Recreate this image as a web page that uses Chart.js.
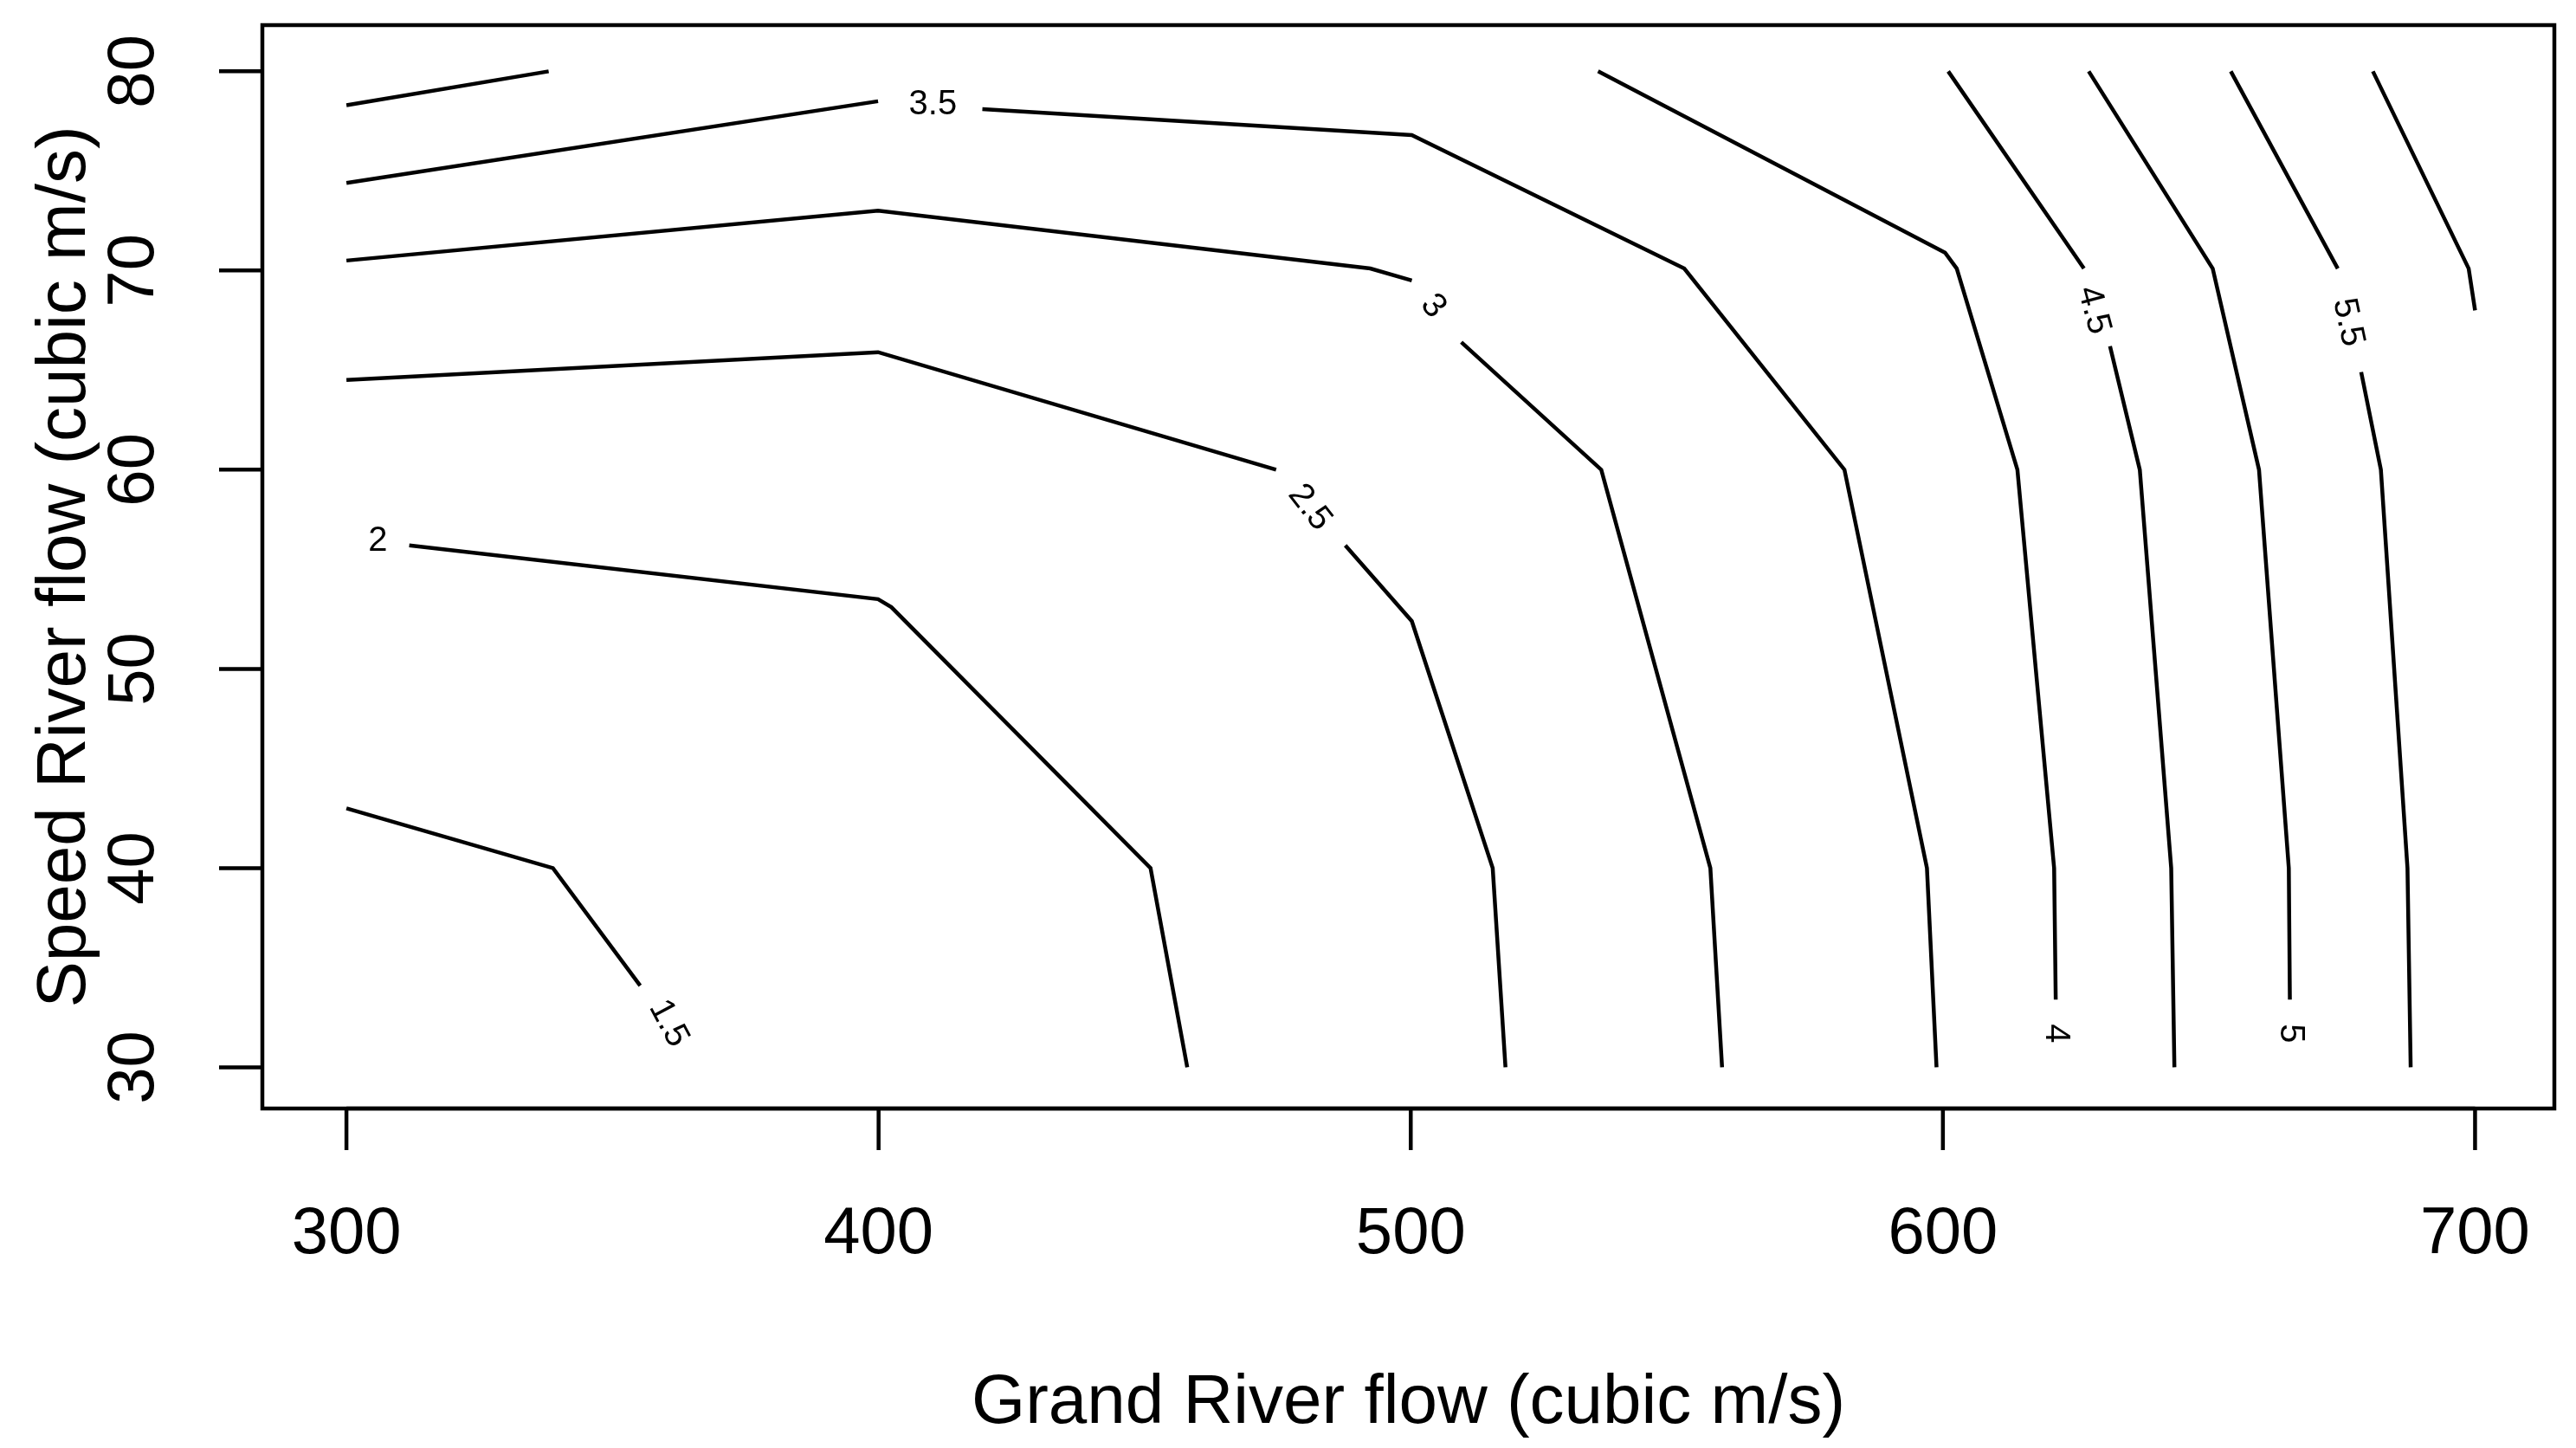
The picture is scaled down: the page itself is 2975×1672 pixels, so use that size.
<!DOCTYPE html>
<html>
<head>
<meta charset="utf-8">
<script src="https://cdn.jsdelivr.net/npm/chart.js@4.4.0/dist/chart.umd.min.js"></script>
<style>
  html, body { margin: 0; padding: 0; background: #fff; }
  #wrap { width: 2975px; height: 1672px; }
</style>
</head>
<body>
<div id="wrap"><canvas id="grafico"></canvas></div>
<script>
// Líneas de contorno (null = hueco para la etiqueta)
const niveles = ['1.5', '2', '2.5', '3', '3.5', '4', '4 (izq)', '4.5', '5', '5.5', '6'];
const contornoX = [
  [300, 338.8, 355.2],
  [311.8, 399.9, 402.4, 451.1, 458],
  [300, 399.9, 474.7, null, 487.7, 500.2, 515.4, 517.8],
  [300, 399.9, 492.4, 500.2, null, 509.5, 535.8, 556.3, 558.5],
  [300, 399.9, null, 419.5, 500.2, 551.4, 581.5, 597, 598.8],
  [535.2, 600.4, 602.6, 614, 620.9, 621.2],
  [300, 338],
  [601, 626.5, null, 631.4, 637, 642.9, 643.5],
  [627.4, 650.7, 659.4, 665, 665.2],
  [654.1, 674.2, null, 678.6, 682.3, 687.3, 687.9],
  [680.8, 698.8, 700]
];
const contornoY = [
  [43, 40, 34.1],
  [56.2, 53.5, 53.1, 40, 30],
  [64.5, 65.9, 60, null, 56.2, 52.4, 40, 30],
  [70.5, 73, 70.1, 69.5, null, 66.4, 60, 40, 30],
  [74.4, 78.5, null, 78.1, 76.8, 70.1, 60, 40, 30],
  [80, 70.9, 70.1, 60, 40, 33.4],
  [78.3, 80],
  [80, 70.1, null, 66.2, 60, 40, 30],
  [80, 70.1, 60, 40, 33.4],
  [80, 70.1, null, 64.9, 60, 40, 30],
  [80, 70.1, 68]
];

// Etiquetas de contorno: texto, posición y giro (grados)
const etiquetasTexto = ['3.5', '3', '2.5', '2', '1.5', '4', '5', '4.5', '5.5'];
const etiquetasX = [410.2, 504.2, 481, 305.9, 360.5, 621.2, 665.2, 628.3, 676.1];
const etiquetasY = [78.3, 68.2, 58.1, 56.4, 32.2, 31.7, 31.7, 68, 67.4];
const etiquetasGiro = [0, 50, 52, 0, 62, 90, 90, 75, 78];

const ticksX = [300, 400, 500, 600, 700];
const ticksY = [30, 40, 50, 60, 70, 80];
const tituloX = 'Grand River flow (cubic m/s)';
const tituloY = 'Speed River flow (cubic m/s)';

const FUENTE = '"Liberation Sans", Arial, sans-serif';

const datasets = contornoX.map((xs, i) => ({
  label: niveles[i],
  data: xs.map((x, j) => (x === null ? { x: null, y: null } : { x: x, y: contornoY[i][j] })),
  borderColor: '#000',
  borderWidth: 4.5,
  pointRadius: 0,
  showLine: true,
  spanGaps: false,
  tension: 0
}));

const ejesR = {
  id: 'ejesR',
  afterDraw(chart) {
    const ctx = chart.ctx;
    const a = chart.chartArea;
    const sx = chart.scales.x, sy = chart.scales.y;
    ctx.save();
    ctx.strokeStyle = '#000';
    ctx.fillStyle = '#000';
    ctx.lineWidth = 4.5;
    ctx.strokeRect(a.left, a.top, a.right - a.left, a.bottom - a.top);

    // eje X
    const yEje = a.bottom + 48;
    ctx.beginPath();
    ctx.moveTo(sx.getPixelForValue(ticksX[0]), a.bottom);
    ctx.lineTo(sx.getPixelForValue(ticksX[ticksX.length - 1]), a.bottom);
    ticksX.forEach(t => {
      const px = sx.getPixelForValue(t);
      ctx.moveTo(px, a.bottom);
      ctx.lineTo(px, yEje);
    });
    ctx.stroke();
    ctx.font = '76px ' + FUENTE;
    ctx.textAlign = 'center';
    ctx.textBaseline = 'middle';
    ticksX.forEach(t => ctx.fillText(String(t), sx.getPixelForValue(t), 1426));
    ctx.font = '80px ' + FUENTE;
    ctx.fillText(tituloX, (a.left + a.right) / 2, 1621);

    // eje Y
    const xEje = a.left - 50;
    ctx.beginPath();
    ticksY.forEach(t => {
      const py = sy.getPixelForValue(t);
      ctx.moveTo(a.left, py);
      ctx.lineTo(xEje, py);
    });
    ctx.stroke();
    ctx.font = '76px ' + FUENTE;
    ticksY.forEach(t => {
      ctx.save();
      ctx.translate(156, sy.getPixelForValue(t));
      ctx.rotate(-Math.PI / 2);
      ctx.fillText(String(t), 0, 0);
      ctx.restore();
    });
    ctx.save();
    ctx.font = '80px ' + FUENTE;
    ctx.translate(76, (a.top + a.bottom) / 2);
    ctx.rotate(-Math.PI / 2);
    ctx.fillText(tituloY, 0, 0);
    ctx.restore();

    // etiquetas de contorno
    ctx.font = '40px ' + FUENTE;
    etiquetasTexto.forEach((txt, i) => {
      ctx.save();
      ctx.translate(sx.getPixelForValue(etiquetasX[i]), sy.getPixelForValue(etiquetasY[i]));
      ctx.rotate(etiquetasGiro[i] * Math.PI / 180);
      ctx.fillText(txt, 0, 0);
      ctx.restore();
    });
    ctx.restore();
  }
};

new Chart(document.getElementById('grafico'), {
  type: 'scatter',
  data: { datasets },
  options: {
    responsive: true,
    maintainAspectRatio: false,
    animation: false,
    layout: { padding: { left: 303, right: 25, top: 29, bottom: 392 } },
    plugins: { legend: { display: false }, tooltip: { enabled: false } },
    scales: {
      x: { type: 'linear', min: 284.2, max: 714.9, display: false },
      y: { type: 'linear', min: 27.93, max: 82.32, display: false }
    }
  },
  plugins: [ejesR]
});
</script>
</body>
</html>
